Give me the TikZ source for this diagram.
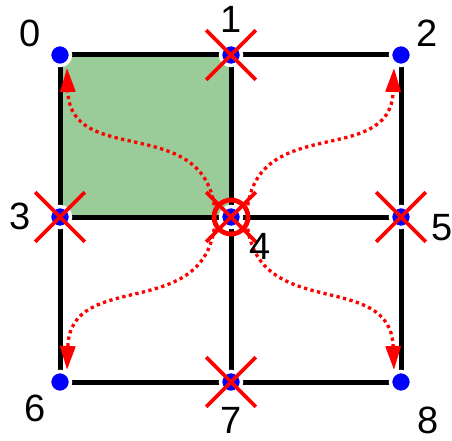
\documentclass[tikz,border=0pt]{standalone}
\usepackage{fontspec}
\setmainfont{Liberation Sans}
\usetikzlibrary{arrows.meta,calc,shapes.misc}
\definecolor{cellgreen}{RGB}{153,204,153}
\definecolor{dotblue}{RGB}{0,0,255}
\definecolor{xred}{RGB}{255,0,0}
\pgfdeclarelayer{bg}
\pgfdeclarelayer{mid}
\pgfsetlayers{bg,mid,main}
\begin{document}
\begin{tikzpicture}[x=1pt,y=1pt,
  gridline/.style={line width=5pt, black},
  vert/.style={circle, fill=dotblue, draw=white, line width=3.5pt, minimum size=21pt, inner sep=0pt, outer sep=0pt},
  xmark/.style={cross out, draw=xred, line width=3.6pt, minimum size=46pt, inner sep=0pt},
  ringmark/.style={circle, draw=xred, line width=4.8pt, minimum size=34pt, inner sep=0pt},
  flow/.style={xred, line width=3.3pt, dash pattern=on 3.3pt off 3.4pt, -{Triangle[length=24pt,width=15pt]}},
  lab/.style={font=\fontsize{38}{40}\selectfont, inner sep=0pt}]
\useasboundingbox (0,0) rectangle (452,440);
% vertices
\node[vert] (n0) at (60,385) {};
\node[vert] (n1) at (231,385) {};
\node[vert] (n2) at (401,385) {};
\node[vert] (n3) at (60,223) {};
\node[vert] (n4) at (231,223) {};
\node[vert] (n5) at (401,223) {};
\node[vert] (n6) at (60,58) {};
\node[vert] (n7) at (231,58) {};
\node[vert] (n8) at (401,58) {};
% grid
\begin{pgfonlayer}{bg}
\fill[cellgreen] (n0.center) rectangle (n4.center);
\draw[gridline] (n0.center) -- (n1.center) -- (n2.center);
\draw[gridline] (n3.center) -- (n4.center) -- (n5.center);
\draw[gridline] (n6.center) -- (n7.center) -- (n8.center);
\draw[gridline] (n0.center) -- (n3.center) -- (n6.center);
\draw[gridline] (n1.center) -- (n4.center) -- (n7.center);
\draw[gridline] (n2.center) -- (n5.center) -- (n8.center);
\end{pgfonlayer}
% flow arrows
\coordinate (s0) at ($(n4)+(-16,5)$);
\coordinate (s2) at ($(n4)+(16,5)$);
\coordinate (s6) at ($(n4)+(-16,-5)$);
\coordinate (s8) at ($(n4)+(16,-5)$);
\coordinate (e0) at ($(n0)+(7,-13)$);
\coordinate (e2) at ($(n2)+(-7,-13)$);
\coordinate (e6) at ($(n6)+(7,12)$);
\coordinate (e8) at ($(n8)+(-7,12)$);
\begin{pgfonlayer}{mid}
\draw[flow] (s0) to[out=95, in=-88, looseness=1.25] (e0);
\draw[flow] (s2) to[out=85, in=-92, looseness=1.25] (e2);
\draw[flow] (s6) to[out=-95, in=88, looseness=1.25] (e6);
\draw[flow] (s8) to[out=-85, in=92, looseness=1.25] (e8);
\end{pgfonlayer}
% blocked marks
\node[xmark] (x1) at (n1) {};
\node[xmark] (x3) at (n3) {};
\node[xmark] (x4) at (n4) {};
\node[xmark] (x5) at (n5) {};
\node[xmark] (x7) at (n7) {};
\node[ringmark] (r4) at (n4) {};
% labels
\node[lab] (l0) at (30,406.5) {0};
\node[lab] (l1) at (231,421) {1};
\node[lab] (l2) at (427,406.5) {2};
\node[lab] (l3) at (20,224) {3};
\node[lab] (l4) at (260,194) {4};
\node[lab] (l5) at (442,212.5) {5};
\node[lab] (l6) at (35,32) {6};
\node[lab] (l7) at (231,20) {7};
\node[lab] (l8) at (428,20) {8};
\end{tikzpicture}
\end{document}
